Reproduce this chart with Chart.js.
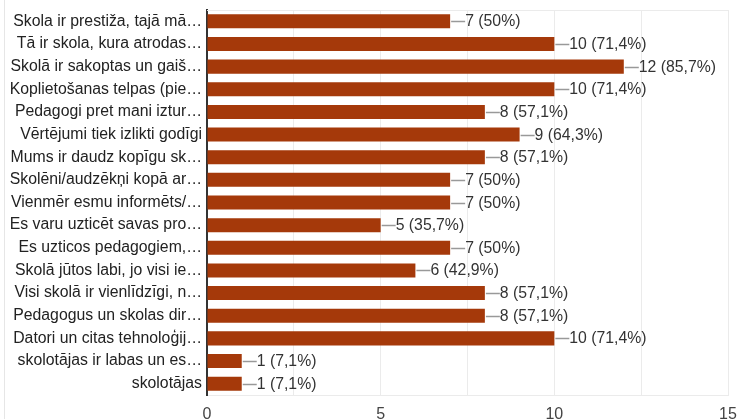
<!DOCTYPE html>
<html>
<head>
<meta charset="utf-8">
<script src="https://cdn.jsdelivr.net/npm/chart.js@4"></script>
<style>
    html, body { margin: 0; padding: 0; background: #fff; }
    #wrap { position: relative; width: 738px; height: 419px; }
    #frame { position: absolute; left: 4px; top: 0; width: 1px; height: 419px; background: #e6e6e6; }
</style>
</head>
<body>
<div id="wrap">
    <div id="frame"></div>
    <canvas id="chart" width="738" height="419"></canvas>
</div>
<script>
const categories = [
    'Skola ir prestiža, tajā mā…',
    'Tā ir skola, kura atrodas…',
    'Skolā ir sakoptas un gaiš…',
    'Koplietošanas telpas (pie…',
    'Pedagogi pret mani iztur…',
    'Vērtējumi tiek izlikti godīgi',
    'Mums ir daudz kopīgu sk…',
    'Skolēni/audzēkņi kopā ar…',
    'Vienmēr esmu informēts/…',
    'Es varu uzticēt savas pro…',
    'Es uzticos pedagogiem,…',
    'Skolā jūtos labi, jo visi ie…',
    'Visi skolā ir vienlīdzīgi, n…',
    'Pedagogus un skolas dir…',
    'Datori un citas tehnoloģij…',
    'skolotājas ir labas un es…',
    'skolotājas'
];
const counts = [7, 10, 12, 10, 8, 9, 8, 7, 7, 5, 7, 6, 8, 8, 10, 1, 1];
const percents = ['50%', '71,4%', '85,7%', '71,4%', '57,1%', '64,3%', '57,1%', '50%', '50%',
    '35,7%', '50%', '42,9%', '57,1%', '57,1%', '71,4%', '7,1%', '7,1%'];
const xTicks = [0, 5, 10, 15];

const barColor = '#a5390a';
const gridColor = '#ebebeb';
const fontFamily = '"Liberation Sans", Arial, sans-serif';

// leader line + "n (p%)" label after each bar, plus top frame line
const valueLabels = {
    id: 'valueLabels',
    afterDatasetsDraw(chart) {
        const ctx = chart.ctx;
        const area = chart.chartArea;
        ctx.save();
        ctx.strokeStyle = gridColor;
        ctx.lineWidth = 1;
        ctx.beginPath();
        ctx.moveTo(area.left, area.top + 0.5);
        ctx.lineTo(area.right, area.top + 0.5);
        ctx.stroke();

        const meta = chart.getDatasetMeta(0);
        ctx.font = '15.8px ' + fontFamily;
        ctx.fillStyle = '#333';
        ctx.textBaseline = 'middle';
        meta.data.forEach((bar, i) => {
            const x = bar.x;
            const y = Math.round(bar.y);
            ctx.strokeStyle = '#999';
            ctx.lineWidth = 1.5;
            ctx.beginPath();
            ctx.moveTo(x + 1, y + 0.5);
            ctx.lineTo(x + 15, y + 0.5);
            ctx.stroke();
            ctx.fillText(counts[i] + ' (' + percents[i] + ')', x + 15, y + 1);
        });
        ctx.restore();
    }
};

new Chart(document.getElementById('chart'), {
    type: 'bar',
    data: {
        labels: categories,
        datasets: [{
            data: counts,
            backgroundColor: barColor,
            borderWidth: 0,
            barPercentage: 0.62,
            categoryPercentage: 1
        }]
    },
    options: {
        indexAxis: 'y',
        responsive: false,
        animation: false,
        layout: { padding: { top: 10, right: 10, left: 0, bottom: 0 } },
        plugins: {
            legend: { display: false },
            tooltip: { enabled: false }
        },
        scales: {
            x: {
                min: 0,
                max: 15,
                afterBuildTicks: (scale) => {
                    const t = [];
                    for (let v = 0; v <= 15; v += 2.5) t.push({ value: v });
                    scale.ticks = t;
                },
                afterFit: (scale) => {
                    scale.height = 24;
                    scale.paddingLeft = 0;
                    scale.paddingRight = 0;
                },
                grid: { color: gridColor, drawTicks: false },
                border: { color: gridColor, width: 1 },
                ticks: {
                    padding: 10,
                    color: '#444',
                    font: { family: fontFamily, size: 16 },
                    maxRotation: 0,
                    autoSkip: false,
                    callback: (v) => xTicks.includes(v) ? String(v) : ''
                }
            },
            y: {
                afterFit: (scale) => {
                    scale.width = 207;
                    scale.paddingTop = 0;
                    scale.paddingBottom = 0;
                },
                grid: { display: false, drawTicks: false },
                border: { color: '#333', width: 2 },
                ticks: {
                    padding: 5,
                    color: '#222',
                    autoSkip: false,
                    font: { family: fontFamily, size: 15.8 }
                }
            }
        }
    },
    plugins: [valueLabels]
});
</script>
</body>
</html>
